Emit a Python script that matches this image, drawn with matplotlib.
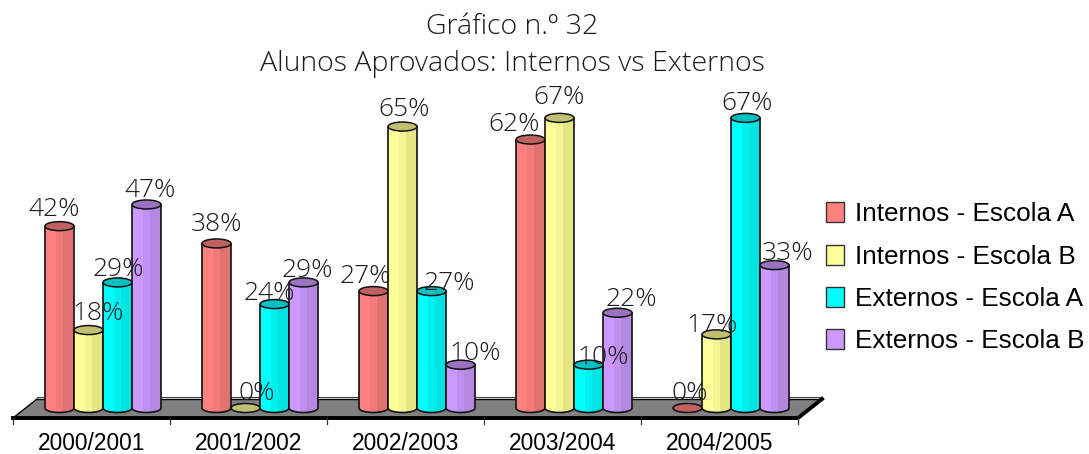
import matplotlib
matplotlib.use("Agg")
import matplotlib.pyplot as plt
import numpy as np
from matplotlib.patches import Ellipse, PathPatch, Polygon, Patch, Rectangle
from matplotlib.path import Path

years = ["2000/2001", "2001/2002", "2002/2003", "2003/2004", "2004/2005"]
series_names = ["Internos - Escola A", "Internos - Escola B", "Externos - Escola A", "Externos - Escola B"]
internos_a = [42, 38, 27, 62, 0]
internos_b = [18, 0, 65, 67, 17]
externos_a = [29, 24, 27, 10, 67]
externos_b = [47, 29, 10, 22, 33]
series = [internos_a, internos_b, externos_a, externos_b]

light = ["#FF8080", "#FFFF99", "#00FFFF", "#CC99FF"]
mid = ["#F47A7A", "#F5F595", "#00F0F0", "#C08FF2"]
dark = ["#E07272", "#E5E585", "#00E3E3", "#B488E0"]
top_col = ["#C06060", "#C0C070", "#00C0C0", "#9973BF"]

# label nudges in pixels (dx right, dy up), by series then year
nudge_x = [[-5.5, .5, -8.5, -16.5, 2.5], [9.5, 11.5, 1.5, -.5, -4.5],
           [.5, -5.5, 17.5, 14.5, 1.5], [3.5, 3.5, 14.5, 13.5, 13.5]]
nudge_y = [[17, 19, 15, 15.5, 15], [17, 14, 17.5, 20, 9],
           [13, 11, 8, 7.7, 14], [13.5, 12, 10.7, 13.7, 12]]

W, H = 1089, 454
PX_PER_GROUP = 157.0
PX_PER_PCT = 4.33
X0_PX = 13.0
Y0_PX = 408.0

fig = plt.figure(figsize=(W / 100, H / 100), dpi=100, facecolor="white")
ax = fig.add_axes([0, 0, 1, 1])
ax.set_xlim(-X0_PX / PX_PER_GROUP, (W - X0_PX) / PX_PER_GROUP)
ax.set_ylim((Y0_PX - H) / PX_PER_PCT, Y0_PX / PX_PER_PCT)
ax.axis("off")

px = lambda p: p / PX_PER_GROUP   # horizontal pixels to data
py = lambda p: p / PX_PER_PCT     # vertical pixels to data
thin_font = ["Open Sans", "DejaVu Sans"]
ink = "#1c1c1c"

# floor
fl, fr = 0.0, 5.0
by, fy = py(Y0_PX - 399), py(Y0_PX - 418)
depth = px(24)
ax.add_patch(Polygon([[fl, fy], [fl + depth, by], [fr + depth, by], [fr, fy]],
                     closed=True, fc="#808080", ec="none", zorder=1))
ax.plot([fl + depth, fr + depth], [by, by], color="black", lw=1.0, zorder=2)
ax.plot([fl + depth, fr + depth], [by + py(2), by + py(2)], color="#404040", lw=0.8, zorder=2)
ax.plot([fl, fl + depth], [fy, by], color="black", lw=1.0, zorder=2)
ax.plot([fl, fr, fr + depth], [fy, fy, by], color="black", lw=2.8, zorder=2, solid_joinstyle="miter")

# category axis
for i in range(len(years) + 1):
    ax.plot([i, i], [fy, fy - py(6)], color="#333333", lw=0.9, zorder=2)
for i, y in enumerate(years):
    ax.text(i + 0.5, py(Y0_PX - 444), y, ha="center", va="center",
            family="Liberation Sans", fontsize=16.4, color="black")

# cylinders
bw = px(29)
start = px(32)
eh = py(9)
z = 3
for g in range(len(years)):
    for s, vals in enumerate(series):
        v = vals[g]
        x = g + start + s * bw
        cx = x + bw / 2
        if v > 0:
            t = np.linspace(np.pi, 2 * np.pi, 30)
            verts = [(x, v)] + list(zip(cx + bw / 2 * np.cos(t), eh / 2 * np.sin(t))) + [(x + bw, v), (x, v)]
            body = PathPatch(Path(verts, closed=False), fc=light[s], ec="none", zorder=z)
            ax.add_patch(body)
            for a, b, c in [(0.38, 0.62, mid[s]), (0.62, 1.0, dark[s])]:
                r = Rectangle((x + a * bw, -eh), (b - a) * bw, v + eh, fc=c, ec="none", zorder=z)
                ax.add_patch(r)
                r.set_clip_path(body)
            outline = PathPatch(Path(verts, closed=False), fc="none", ec="#111111", lw=1.2, zorder=z)
            ax.add_patch(outline)
        ax.add_patch(Ellipse((cx, v), bw, eh, fc=top_col[s], ec="#111111", lw=1.1, zorder=z))
        z += 0.01

# value labels
for s, vals in enumerate(series):
    for g, v in enumerate(vals):
        cx = g + start + (s + 0.5) * bw
        ax.annotate(f"{v}%", (cx, v), xytext=(nudge_x[s][g] * 0.72, nudge_y[s][g] * 0.72),
                    textcoords="offset points", ha="center", va="center",
                    family=thin_font, fontweight="light", fontsize=19, color=ink, zorder=10)

# title
ax.text(px(512 - X0_PX), py(Y0_PX - 27), "Gráfico n.º 32", ha="center", va="center",
        family=thin_font, fontweight="light", fontsize=20.5, color=ink)
ax.text(px(512 - X0_PX), py(Y0_PX - 64), "Alunos Aprovados: Internos vs Externos", ha="center", va="center",
        family=thin_font, fontweight="light", fontsize=20.5, color=ink)

# legend
handles = [Patch(fc=light[i], ec="#333333", lw=1.0, label=series_names[i]) for i in range(4)]
ax.legend(handles=handles, loc="upper left", bbox_to_anchor=(821 / W, 1 - 197 / H), frameon=False,
          prop={"family": "Liberation Sans", "size": 18.8}, handlelength=0.68, handleheight=0.8,
          handletextpad=0.42, labelspacing=0.7, borderpad=0.2, borderaxespad=0)

fig.savefig("out.png", dpi=100)
